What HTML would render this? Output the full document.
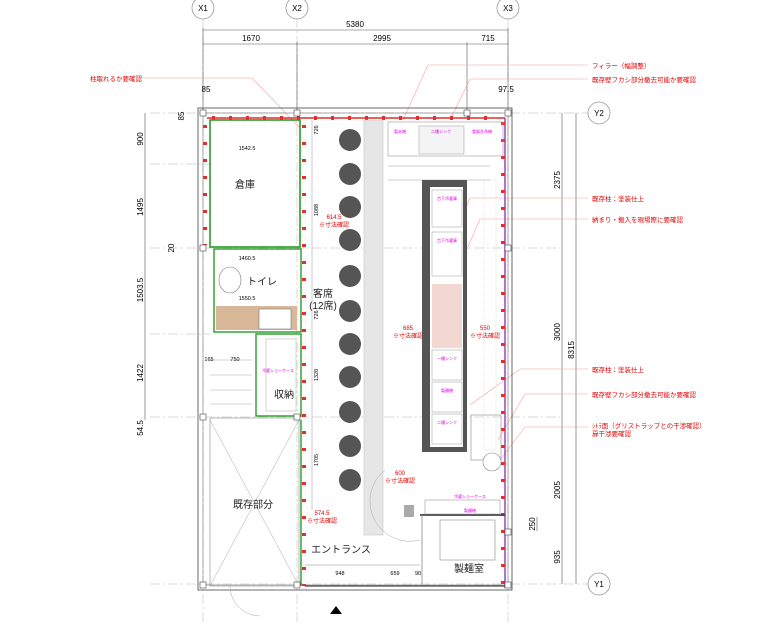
<!DOCTYPE html>
<html><head><meta charset="utf-8"><style>
html,body{margin:0;padding:0;background:#fff;}
svg{display:block;font-family:"Liberation Sans","Noto Sans CJK JP",sans-serif;}
</style></head><body>
<svg width="771" height="624" viewBox="0 0 771 624" xmlns="http://www.w3.org/2000/svg">
<g stroke="#ccc" stroke-width="0.7" stroke-dasharray="10,3,2,3" fill="none">
<line x1="203" y1="18" x2="203" y2="624"/><line x1="297" y1="18" x2="297" y2="624"/><line x1="508" y1="18" x2="508" y2="624"/>
<line x1="150" y1="113" x2="590" y2="113"/><line x1="150" y1="248" x2="560" y2="248"/><line x1="150" y1="417" x2="560" y2="417"/><line x1="150" y1="584" x2="590" y2="584"/>
<line x1="150" y1="164" x2="210" y2="164"/><line x1="150" y1="334" x2="210" y2="334"/>
</g>
<g fill="#fff" stroke="#999" stroke-width="0.8">
<circle cx="203" cy="8" r="11"/><circle cx="297" cy="8" r="11"/><circle cx="508" cy="8" r="11"/>
<circle cx="599" cy="113" r="11"/><circle cx="599" cy="584" r="11"/>
</g>
<g font-size="8" text-anchor="middle" fill="#000">
<text x="203" y="11">X1</text><text x="297" y="11">X2</text><text x="508" y="11">X3</text>
<text x="599" y="116">Y2</text><text x="599" y="587">Y1</text>
</g>
<g stroke="#555" stroke-width="0.6">
<line x1="203" y1="30" x2="508" y2="30"/><line x1="203" y1="44" x2="508" y2="44"/>
<line x1="203" y1="28" x2="203" y2="113"/><line x1="297" y1="42" x2="297" y2="113"/><line x1="467" y1="42" x2="467" y2="113"/><line x1="508" y1="28" x2="508" y2="113"/>
<line x1="145" y1="113" x2="145" y2="420"/>
<line x1="562" y1="113" x2="562" y2="584"/><line x1="576" y1="113" x2="576" y2="584"/>
<line x1="537" y1="517" x2="537" y2="531"/>
</g>
<g font-size="8" text-anchor="middle" fill="#000">
<text x="355" y="27">5380</text>
<text x="251" y="41">1670</text><text x="382" y="41">2995</text><text x="488" y="41">715</text>
<text x="206" y="92">85</text><text x="506" y="92">97.5</text>
</g>
<g font-size="8" fill="#000" text-anchor="middle">
<text transform="translate(143,139) rotate(-90)">900</text>
<text transform="translate(143,207) rotate(-90)">1495</text>
<text transform="translate(174,248) rotate(-90)">20</text>
<text transform="translate(143,290) rotate(-90)">1503.5</text>
<text transform="translate(143,373) rotate(-90)">1422</text>
<text transform="translate(143,428) rotate(-90)">54.5</text>
<text transform="translate(184,116) rotate(-90)">85</text>
<text transform="translate(560,180) rotate(-90)">2375</text>
<text transform="translate(560,332) rotate(-90)">3000</text>
<text transform="translate(574,350) rotate(-90)">8315</text>
<text transform="translate(560,490) rotate(-90)">2005</text>
<text transform="translate(535,524) rotate(-90)">250</text>
<text transform="translate(560,557) rotate(-90)">935</text>
</g>
<g stroke="#f5a0a0" stroke-width="0.6" fill="none">
<polyline points="140,78 252,78 300,128"/>
<polyline points="588,65 428,65 403,120"/>
<polyline points="588,79 470,79 450,120"/>
<polyline points="588,198 470,198 445,260"/>
<polyline points="588,219 480,219 458,270"/>
<polyline points="588,369 520,369 470,405"/>
<polyline points="588,394 525,394 498,440"/>
<polyline points="588,427 525,427 500,460"/>
</g>
<g font-size="6.5" fill="#e00000">
<text x="90" y="81">柱取れるか要確認</text>
<text x="592" y="68">フィラー（幅調整）</text>
<text x="592" y="82">既存壁フカシ部分撤去可能か要確認</text>
<text x="592" y="201">既存柱：塗装仕上</text>
<text x="592" y="222">納まり・搬入を現場際に要確認</text>
<text x="592" y="372">既存柱：塗装仕上</text>
<text x="592" y="397">既存壁フカシ部分撤去可能か要確認</text>
<text x="592" y="428">ｼﾄﾗ面（グリストラップとの干渉確認）</text>
<text x="592" y="436">扉干渉要確認</text>
</g>
<rect x="198" y="108" width="314" height="482" fill="none" stroke="#444" stroke-width="0.8"/>
<rect x="203" y="113" width="305" height="472" fill="none" stroke="#777" stroke-width="0.6"/>
<line x1="207" y1="118" x2="505" y2="118" stroke="#d00" stroke-width="1.2"/>
<line x1="505" y1="118" x2="505" y2="588" stroke="#a040c0" stroke-width="1.5"/>
<!-- red wall markers -->
<g stroke="#e03030" stroke-width="4" fill="none">
<line x1="503" y1="122" x2="503" y2="588" stroke-dasharray="3,14"/>
<line x1="212" y1="118" x2="500" y2="118" stroke-dasharray="3,14"/>
<line x1="205" y1="125" x2="205" y2="245" stroke-dasharray="3,14"/>
<line x1="304" y1="125" x2="304" y2="586" stroke-dasharray="3,14"/>
</g>
<rect x="210" y="120" width="90" height="127" fill="none" stroke="#2a9a2a" stroke-width="1.6"/>
<rect x="214" y="249" width="87" height="83" fill="none" stroke="#2a9a2a" stroke-width="1.4"/>
<rect x="216" y="306" width="81" height="24" fill="#d8b898"/>
<rect x="259" y="309" width="32" height="20" fill="#fff" stroke="#777" stroke-width="0.6"/>
<ellipse cx="230" cy="280" rx="11" ry="13" fill="#fff" stroke="#777" stroke-width="0.6"/>
<rect x="256" y="334" width="45" height="82" fill="none" stroke="#2a9a2a" stroke-width="1.4"/>
<rect x="266" y="339" width="30" height="72" fill="none" stroke="#aaa" stroke-width="0.5"/>
<g stroke="#aaa" stroke-width="0.5">
<line x1="210" y1="360" x2="252" y2="360"/><line x1="210" y1="375" x2="252" y2="375"/><line x1="210" y1="390" x2="252" y2="390"/><line x1="210" y1="404" x2="252" y2="404"/>
<line x1="210" y1="420" x2="299" y2="586"/><line x1="299" y1="420" x2="210" y2="586"/>
</g>
<rect x="210" y="418" width="89" height="168" fill="none" stroke="#888" stroke-width="0.6"/>
<line x1="301" y1="420" x2="301" y2="586" stroke="#2a9a2a" stroke-width="1.4"/>
<g font-size="10" fill="#222" text-anchor="middle">
<text x="245" y="188">倉庫</text><text x="262" y="285">トイレ</text><text x="284" y="398">収納</text>
<text x="253" y="508">既存部分</text><text x="341" y="553">エントランス</text><text x="452" y="302">厨房</text>
<text x="323" y="297">客席</text><text x="323" y="309">(12席)</text><text x="469" y="572">製麺室</text>
</g>
<g font-size="5.5" fill="#000" text-anchor="middle">
<text x="247" y="150">1542.5</text><text x="247" y="260">1460.5</text><text x="247" y="300">1550.5</text><text x="235" y="361">750</text><text x="209" y="361">165</text>
<text x="340" y="575">948</text><text x="395" y="575">659</text><text x="418" y="575">90</text><text x="378" y="241">550</text>
</g>
<g font-size="5.5" fill="#000" text-anchor="middle">
<text transform="translate(318,130) rotate(-90)">726</text>
<text transform="translate(318,210) rotate(-90)">1088</text>
<text transform="translate(318,315) rotate(-90)">726</text>
<text transform="translate(318,375) rotate(-90)">1320</text>
<text transform="translate(318,460) rotate(-90)">1705</text>
<text transform="translate(373,185) rotate(-90)">2400</text>
<text transform="translate(373,325) rotate(-90)">2400</text>
<text transform="translate(373,465) rotate(-90)">2500</text>
</g>
<rect x="364" y="120" width="19" height="415" fill="#e6e6e6" stroke="#bbb" stroke-width="0.5"/>
<line x1="312" y1="120" x2="312" y2="510" stroke="#999" stroke-width="0.5"/>
<g fill="#555">
<circle cx="350" cy="140" r="11"/><circle cx="350" cy="174" r="11"/><circle cx="350" cy="207" r="11"/><circle cx="350" cy="240" r="11"/>
<circle cx="350" cy="276" r="11"/><circle cx="350" cy="311" r="11"/><circle cx="350" cy="344" r="11"/><circle cx="350" cy="377" r="11"/>
<circle cx="350" cy="412" r="11"/><circle cx="350" cy="446" r="11"/><circle cx="350" cy="480" r="11"/>
</g>
<g font-size="6" fill="#e00000" text-anchor="middle">
<text x="408" y="330">685</text><text x="408" y="338">※寸法確認</text>
<text x="485" y="330">550</text><text x="485" y="338">※寸法確認</text>
<text x="452" y="322">2000※</text><text x="452" y="330">※寸法確認</text>
<text x="400" y="475">600</text><text x="400" y="483">※寸法確認</text>
<text x="322" y="515">574.5</text><text x="322" y="523">※寸法確認</text>
<text x="334" y="219">614.5</text><text x="334" y="227">※寸法確認</text>
</g>
<rect x="388" y="122" width="115" height="34" fill="none" stroke="#999" stroke-width="0.6"/>
<rect x="419" y="126" width="45" height="28" fill="#f4f4f4" stroke="#999" stroke-width="0.5"/>
<line x1="388" y1="166" x2="490" y2="166" stroke="#999" stroke-width="0.5"/>
<line x1="388" y1="180" x2="490" y2="180" stroke="#999" stroke-width="0.5"/>
<rect x="422" y="180" width="45" height="272" fill="#555"/>
<rect x="430" y="187" width="33" height="260" fill="#fff"/>
<rect x="432" y="284" width="30" height="64" fill="#f2d8d0"/>
<g stroke="#999" stroke-width="0.5" fill="none">
<rect x="432" y="190" width="30" height="37"/><rect x="432" y="232" width="30" height="44"/>
<rect x="432" y="350" width="30" height="30"/><rect x="432" y="382" width="30" height="30"/><rect x="432" y="414" width="30" height="30"/>
</g>
<g font-size="4" fill="#e000e0" text-anchor="middle">
<text x="447" y="200">台下冷蔵庫</text><text x="447" y="242">台下冷蔵庫</text><text x="447" y="360">一槽シンク</text><text x="447" y="392">製麺機</text><text x="447" y="424">二槽シンク</text>
<text x="400" y="133">製氷機</text><text x="441" y="133">二槽シンク</text><text x="482" y="133">食器洗浄機</text>
<text x="470" y="512">製麺機</text><text x="470" y="498">冷蔵ショーケース</text><text x="278" y="372">冷蔵ショーケース</text>
</g>
<rect x="484" y="180" width="12" height="270" fill="none" stroke="#ccc" stroke-width="0.5" stroke-dasharray="1,1"/>
<rect x="471" y="415" width="30" height="45" fill="none" stroke="#888" stroke-width="0.6"/>
<circle cx="492" cy="462" r="9" fill="#fff" stroke="#888" stroke-width="0.6"/>
<line x1="420" y1="515" x2="505" y2="515" stroke="#444" stroke-width="1.8"/>
<line x1="422" y1="515" x2="422" y2="584" stroke="#888" stroke-width="0.8"/>
<rect x="440" y="520" width="55" height="40" fill="none" stroke="#888" stroke-width="0.6"/>
<rect x="425" y="500" width="75" height="14" fill="none" stroke="#888" stroke-width="0.5"/>
<rect x="404" y="505" width="10" height="12" fill="#aaa"/>
<line x1="305" y1="586" x2="505" y2="586" stroke="#444" stroke-width="1.2"/>
<line x1="305" y1="565" x2="420" y2="565" stroke="#888" stroke-width="0.5"/>
<polygon points="336,606 330,614 342,614" fill="#000"/>
<path d="M230 586 A30 30 0 0 0 260 616" fill="none" stroke="#aaa" stroke-width="0.5"/>
<path d="M385 470 A40 40 0 0 0 420 540" fill="none" stroke="#aaa" stroke-width="0.5"/>
<g fill="#fff" stroke="#444" stroke-width="0.6">
<rect x="200" y="110" width="6" height="6"/><rect x="294" y="110" width="6" height="6"/><rect x="464" y="110" width="6" height="6"/><rect x="505" y="110" width="6" height="6"/>
<rect x="200" y="245" width="6" height="6"/><rect x="505" y="245" width="6" height="6"/><rect x="200" y="414" width="6" height="6"/><rect x="294" y="414" width="6" height="6"/>
<rect x="505" y="529" width="6" height="6"/><rect x="505" y="582" width="6" height="6"/><rect x="200" y="582" width="6" height="6"/><rect x="294" y="582" width="6" height="6"/>
</g>
</svg>
</body></html>
